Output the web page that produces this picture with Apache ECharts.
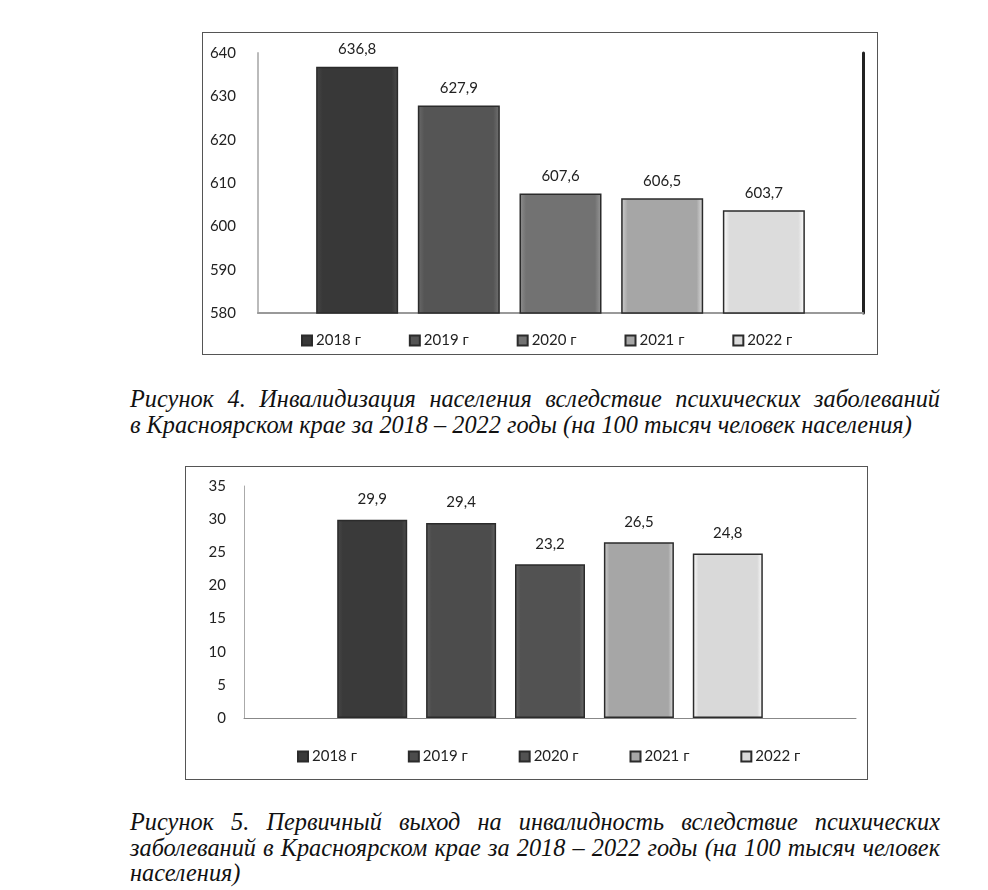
<!DOCTYPE html>
<html lang="ru">
<head>
<meta charset="UTF-8">
<title>Инвалидизация населения</title>
<script src="https://cdn.jsdelivr.net/npm/echarts@6/dist/echarts.min.js"></script>
<style>
  body { margin: 0; background: #fff; }
  .frame { position: absolute; border: 1px solid #555; background: #fff; }
  .cap { position: absolute; left: 130px; width: 810px;
         font-family: 'Liberation Serif', 'Tinos', 'Times New Roman', 'DejaVu Serif', serif;
         font-style: italic; font-size: 24.3px; line-height: 25.5px; color: #111; }
  .cap div { text-align: justify; text-align-last: justify; white-space: nowrap; }
  .cap div.last { text-align-last: left; }
</style>
</head>
<body>
<div id="chart1" class="frame" style="left:202px;top:32px;width:674px;height:321px;"></div>
<div class="cap" style="top:386px;">
  <div>Рисунок 4. Инвалидизация населения вследствие психических заболеваний</div>
  <div class="last">в Красноярском крае за 2018 – 2022 годы (на 100 тысяч человек населения)</div>
</div>
<div id="chart2" class="frame" style="left:185px;top:466px;width:681px;height:312px;"></div>
<div class="cap" style="top:809px;">
  <div>Рисунок 5. Первичный выход на инвалидность вследствие психических</div>
  <div>заболеваний в Красноярском крае за 2018 – 2022 годы (на 100 тысяч человек</div>
  <div class="last">населения)</div>
</div>
<script>
// данные
var years = ['2018 г', '2019 г', '2020 г', '2021 г', '2022 г'];
var disabilityRate = [636.8, 627.9, 607.6, 606.5, 603.7];   // рис. 4
var primaryRate = [29.9, 29.4, 23.2, 26.5, 24.8];           // рис. 5
var colors1 = ['#383838', '#555555', '#727272', '#a6a6a6', '#dcdcdc'];
var colors2 = ['#3a3a3a', '#4c4c4c', '#525252', '#a6a6a6', '#d9d9d9'];

function comma(p) { return String(p.value).replace('.', ','); }

function bevel(c) {
    return {
        type: 'linear', x: 0, y: 0, x2: 1, y2: 0,
        colorStops: [
            { offset: 0, color: echarts.color.lift(c, -0.25) },
            { offset: 0.08, color: c },
            { offset: 0.92, color: c },
            { offset: 1, color: echarts.color.lift(c, -0.35) }
        ]
    };
}

function buildSeries(values, cols, width, gap, dist) {
    return values.map(function (v, i) {
        return {
            name: years[i],
            type: 'bar',
            data: [v],
            barWidth: width,
            barGap: gap,
            itemStyle: {
                color: bevel(cols[i]),
                borderColor: '#2b2b2b',
                borderWidth: 1.5
            },
            label: {
                show: true, position: 'top', distance: dist,
                formatter: comma,
                fontFamily: 'Lato', fontSize: 15, color: '#222'
            }
        };
    });
}

function legend(left, top, gap) {
    return {
        data: years, top: top, left: left,
        itemWidth: 10, itemHeight: 10, itemGap: gap,
        icon: 'rect',
        textStyle: { fontFamily: 'Lato', fontSize: 15, color: '#222', padding: [0, 0, 0, -1] }
    };
}

var chart1 = echarts.init(document.getElementById('chart1'));
chart1.setOption({
    animation: false,
    color: colors1,
    legend: legend(93, 295, 48),
    grid: { left: 55, right: 14, top: 20, bottom: 41 },
    xAxis: {
        type: 'category', data: [''],
        axisLine: { lineStyle: { color: '#999', width: 2 } },
        axisTick: { show: false }, axisLabel: { show: false }
    },
    yAxis: [{
        type: 'value', min: 580, max: 640, interval: 10,
        axisLine: { show: true, lineStyle: { color: '#bbb', width: 2 } },
        splitLine: { show: false },
        axisLabel: { fontFamily: 'Lato', fontSize: 15, color: '#222', margin: 22 }
    }, {
        type: 'value', position: 'right', min: 580, max: 640, interval: 10,
        axisLine: { show: true, lineStyle: { color: '#222', width: 3 } },
        axisLabel: { show: false }, splitLine: { show: false }, axisTick: { show: false }
    }],
    series: buildSeries(disabilityRate, colors1, 82, '24%', 10)
});

var chart2 = echarts.init(document.getElementById('chart2'));
chart2.setOption({
    animation: false,
    color: colors2,
    legend: legend(106, 277, 51),
    grid: { left: 58, right: 11, top: 19, bottom: 61 },
    xAxis: {
        type: 'category', data: [''],
        axisLine: { lineStyle: { color: '#888', width: 1 } },
        axisTick: { show: false }, axisLabel: { show: false }
    },
    yAxis: {
        type: 'value', min: 0, max: 35, interval: 5,
        axisLine: { show: true, lineStyle: { color: '#aaa', width: 1 } },
        splitLine: { show: false },
        axisLabel: { fontFamily: 'Lato', fontSize: 15, color: '#222', margin: 18 }
    },
    series: buildSeries(primaryRate, colors2, 70, '27%', 13)
});
</script>
</body>
</html>
